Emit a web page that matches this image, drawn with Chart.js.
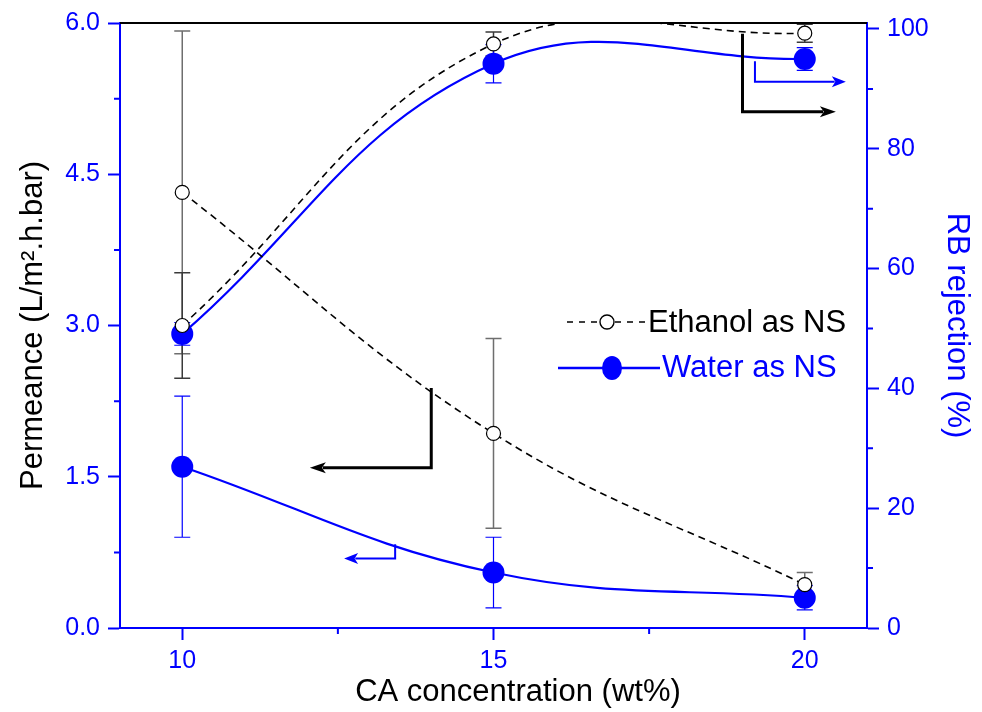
<!DOCTYPE html>
<html lang="en">
<head>
<meta charset="UTF-8">
<title>Permeance and RB rejection vs CA concentration</title>
<script src="https://cdn.jsdelivr.net/npm/chart.js"></script>
<style>
    body {
        margin: 0;
        background: #fff;
    }

    .chart-box {
        width: 982px;
        height: 712px;
        position: relative;
    }
</style>
</head>
<body>
<div class="chart-box"><canvas id="caChart"></canvas></div>

<script>
    const concentrations = [10, 15, 20];

    const ethanolPermeance = [4.32, 1.93, 0.43];
    const ethanolPermeanceErr = [1.6, 0.94, 0.12];
    const waterPermeance = [1.6, 0.55, 0.3];
    const waterPermeanceErr = [0.7, 0.35, 0.12];

    const ethanolRejection = [50.5, 97.5, 99.3];
    const ethanolRejectionErr = [8.8, 2.0, 1.5];
    const waterRejection = [49.1, 94.2, 95.0];
    const waterRejectionErr = [1.9, 3.2, 1.9];

    const xTicks = [10, 15, 20];
    const xMinorTicks = [12.5, 17.5];
    const permeanceTicks = [0, 1.5, 3.0, 4.5, 6.0];
    const permeanceMinorTicks = [0.75, 2.25, 3.75, 5.25];
    const rejectionTicks = [0, 20, 40, 60, 80, 100];
    const rejectionMinorTicks = [10, 30, 50, 70, 90];

    const BLUE = '#0000ff';
    const FONT = '"Liberation Sans", Arial, sans-serif';

    // arrows showing which axis each pair of curves belongs to (data units)
    const arrows = [
        { axis: 'y', color: '#000', width: 3, head: 16, pts: [[14.0, 2.38], [14.0, 1.59], [12.05, 1.59]] },
        { axis: 'y', color: BLUE, width: 2, head: 14, pts: [[13.42, 0.83], [13.42, 0.69], [12.6, 0.69]] },
        { axis: 'y2', color: '#000', width: 3, head: 16, pts: [[19.0, 99.2], [19.0, 86.2], [20.5, 86.2]] },
        { axis: 'y2', color: BLUE, width: 2, head: 14, pts: [[19.2, 94.6], [19.2, 91.2], [20.66, 91.2]] }
    ];

    function toPoints(values) {
        return concentrations.map((c, i) => ({ x: c, y: values[i] }));
    }

    const errorBars = {
        id: 'errorBars',
        beforeDatasetsDraw(chart) {
            const ctx = chart.ctx;
            const area = chart.chartArea;
            ctx.save();
            ctx.beginPath();
            ctx.rect(area.left, area.top - 2, area.right - area.left, area.bottom - area.top + 4);
            ctx.clip();
            chart.data.datasets.forEach((ds, i) => {
                const meta = chart.getDatasetMeta(i);
                const yScale = chart.scales[ds.yAxisID];
                ctx.strokeStyle = ds.errColor;
                ctx.lineWidth = ds.errWidth;
                ds.data.forEach((p, j) => {
                    const x = meta.data[j].x;
                    const top = yScale.getPixelForValue(p.y + ds.errors[j]);
                    const bot = yScale.getPixelForValue(p.y - ds.errors[j]);
                    ctx.beginPath();
                    ctx.moveTo(x, top);
                    ctx.lineTo(x, bot);
                    ctx.moveTo(x - 8, top);
                    ctx.lineTo(x + 8, top);
                    ctx.moveTo(x - 8, bot);
                    ctx.lineTo(x + 8, bot);
                    ctx.stroke();
                });
            });
            ctx.restore();
        }
    };

    const decorations = {
        id: 'decorations',
        afterDraw(chart) {
            const ctx = chart.ctx;
            const area = chart.chartArea;
            const xs = chart.scales.x;
            ctx.save();

            // top frame line
            ctx.strokeStyle = '#000';
            ctx.lineWidth = 2;
            ctx.beginPath();
            ctx.moveTo(area.left, area.top);
            ctx.lineTo(area.right, area.top);
            ctx.stroke();

            // minor ticks
            ctx.strokeStyle = BLUE;
            ctx.lineWidth = 2;
            ctx.beginPath();
            xMinorTicks.forEach(v => {
                const px = xs.getPixelForValue(v);
                ctx.moveTo(px, area.bottom);
                ctx.lineTo(px, area.bottom + 6);
            });
            permeanceMinorTicks.forEach(v => {
                const py = chart.scales.y.getPixelForValue(v);
                ctx.moveTo(area.left, py);
                ctx.lineTo(area.left - 6, py);
            });
            rejectionMinorTicks.forEach(v => {
                const py = chart.scales.y2.getPixelForValue(v);
                ctx.moveTo(area.right, py);
                ctx.lineTo(area.right + 6, py);
            });
            ctx.stroke();

            // arrows
            arrows.forEach(a => {
                const ys = chart.scales[a.axis];
                const pts = a.pts.map(p => [xs.getPixelForValue(p[0]), ys.getPixelForValue(p[1])]);
                const n = pts.length;
                const dir = Math.sign(pts[n - 1][0] - pts[n - 2][0]);
                ctx.strokeStyle = a.color;
                ctx.fillStyle = a.color;
                ctx.lineWidth = a.width;
                ctx.lineJoin = 'miter';
                ctx.beginPath();
                ctx.moveTo(pts[0][0], pts[0][1]);
                for (let i = 1; i < n - 1; i++) ctx.lineTo(pts[i][0], pts[i][1]);
                ctx.lineTo(pts[n - 1][0] - dir * a.head * 0.8, pts[n - 1][1]);
                ctx.stroke();
                const tx = pts[n - 1][0], ty = pts[n - 1][1];
                ctx.beginPath();
                ctx.moveTo(tx, ty);
                ctx.lineTo(tx - dir * a.head, ty - 5.5);
                ctx.lineTo(tx - dir * a.head * 0.75, ty);
                ctx.lineTo(tx - dir * a.head, ty + 5.5);
                ctx.closePath();
                ctx.fill();
            });

            ctx.font = '31px ' + FONT;
            ctx.textBaseline = 'middle';

            // x axis title (sits a little right of the plot centre in the original)
            ctx.textAlign = 'center';
            ctx.fillStyle = '#000';
            ctx.fillText('CA concentration (wt%)', 518, 692);

            // legend
            ctx.textAlign = 'left';
            ctx.strokeStyle = '#000';
            ctx.lineWidth = 1.4;
            ctx.setLineDash([6, 6]);
            ctx.beginPath();
            ctx.moveTo(567, 322);
            ctx.lineTo(647, 322);
            ctx.stroke();
            ctx.setLineDash([]);
            ctx.fillStyle = '#fff';
            ctx.beginPath();
            ctx.arc(607, 322, 7, 0, Math.PI * 2);
            ctx.fill();
            ctx.stroke();
            ctx.fillStyle = '#000';
            ctx.fillText('Ethanol as NS', 648, 323);

            ctx.strokeStyle = BLUE;
            ctx.lineWidth = 2.5;
            ctx.beginPath();
            ctx.moveTo(558, 368);
            ctx.lineTo(660, 368);
            ctx.stroke();
            ctx.fillStyle = BLUE;
            ctx.beginPath();
            ctx.ellipse(612, 368, 10, 12, 0, 0, Math.PI * 2);
            ctx.fill();
            ctx.fillText('Water as NS', 662, 368);

            ctx.restore();
        }
    };

    const axisGrid = {
        drawOnChartArea: false,
        drawTicks: true,
        tickLength: 12,
        tickWidth: 2,
        tickColor: BLUE
    };
    const axisBorder = { display: true, color: BLUE, width: 2 };
    const tickFont = { family: FONT, size: 25 };
    const titleFont = { family: FONT, size: 31 };

    new Chart(document.getElementById('caChart'), {
        type: 'line',
        data: {
            datasets: [
                {
                    label: 'Ethanol as NS',
                    data: toPoints(ethanolPermeance),
                    errors: ethanolPermeanceErr,
                    yAxisID: 'y',
                    borderColor: '#000',
                    borderWidth: 1.6,
                    borderDash: [7, 5],
                    pointRadius: 7,
                    pointBackgroundColor: '#fff',
                    pointBorderColor: '#000',
                    pointBorderWidth: 1.2,
                    errColor: '#6e6e6e',
                    errWidth: 1.5,
                    tension: 0.4
                },
                {
                    label: 'Ethanol as NS (rejection)',
                    data: toPoints(ethanolRejection),
                    errors: ethanolRejectionErr,
                    yAxisID: 'y2',
                    borderColor: '#000',
                    borderWidth: 1.6,
                    borderDash: [7, 5],
                    pointRadius: 7,
                    pointBackgroundColor: '#fff',
                    pointBorderColor: '#000',
                    pointBorderWidth: 1.2,
                    errColor: '#3a3a3a',
                    errWidth: 1.5,
                    tension: 0.4
                },
                {
                    label: 'Water as NS',
                    data: toPoints(waterPermeance),
                    errors: waterPermeanceErr,
                    yAxisID: 'y',
                    borderColor: BLUE,
                    borderWidth: 2.2,
                    pointRadius: 11,
                    pointBackgroundColor: BLUE,
                    pointBorderColor: BLUE,
                    pointBorderWidth: 0,
                    errColor: BLUE,
                    errWidth: 1.2,
                    tension: 0.4
                },
                {
                    label: 'Water as NS (rejection)',
                    data: toPoints(waterRejection),
                    errors: waterRejectionErr,
                    yAxisID: 'y2',
                    borderColor: BLUE,
                    borderWidth: 2.2,
                    pointRadius: 11,
                    pointBackgroundColor: BLUE,
                    pointBorderColor: BLUE,
                    pointBorderWidth: 0,
                    errColor: BLUE,
                    errWidth: 1.2,
                    tension: 0.4
                }
            ]
        },
        options: {
            responsive: true,
            maintainAspectRatio: false,
            animation: false,
            layout: { padding: { top: 22 } },
            elements: { line: { capBezierPoints: false } },
            plugins: {
                legend: { display: false },
                tooltip: { enabled: false }
            },
            scales: {
                x: {
                    type: 'linear',
                    min: 9,
                    max: 21,
                    grid: axisGrid,
                    border: axisBorder,
                    afterBuildTicks: s => { s.ticks = xTicks.map(v => ({ value: v })); },
                    afterFit: s => { s.height = 84; },
                    ticks: { color: BLUE, font: tickFont, padding: 6 },
                    title: { display: false }
                },
                y: {
                    position: 'left',
                    min: 0,
                    max: 6,
                    grid: axisGrid,
                    border: axisBorder,
                    afterBuildTicks: s => { s.ticks = permeanceTicks.map(v => ({ value: v })); },
                    afterFit: s => { s.width = 120; },
                    ticks: { color: BLUE, font: tickFont, padding: 8, callback: v => v.toFixed(1) },
                    title: {
                        display: true,
                        text: 'Permeance (L/m².h.bar)',
                        color: '#000',
                        font: titleFont,
                        padding: { top: 15, bottom: 0 }
                    }
                },
                y2: {
                    position: 'right',
                    min: 0,
                    max: 101,
                    grid: axisGrid,
                    border: axisBorder,
                    afterBuildTicks: s => { s.ticks = rejectionTicks.map(v => ({ value: v })); },
                    afterFit: s => { s.width = 115; },
                    ticks: { color: BLUE, font: tickFont, padding: 8 },
                    title: {
                        display: true,
                        text: 'RB rejection (%)',
                        color: BLUE,
                        font: titleFont,
                        padding: { top: 7, bottom: 0 }
                    }
                }
            }
        },
        plugins: [errorBars, decorations]
    });
</script>
</body>
</html>
